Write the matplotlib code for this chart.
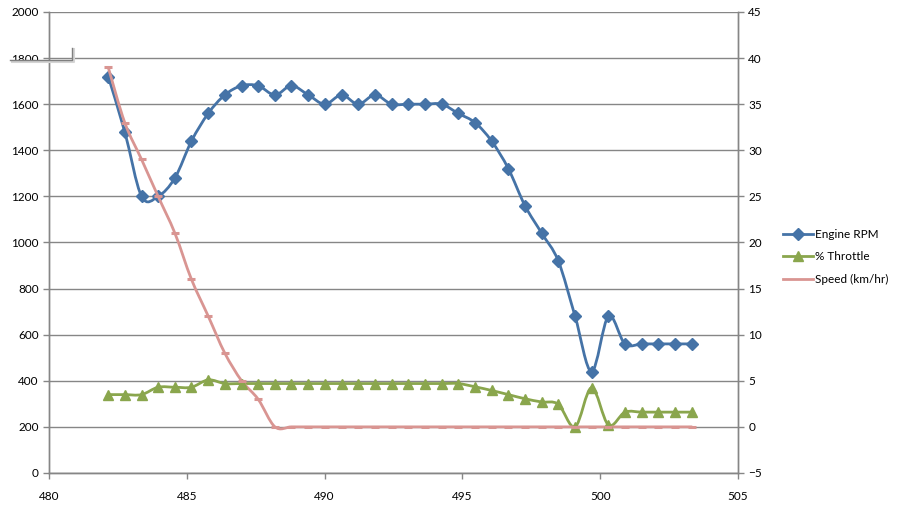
import numpy as np
import matplotlib.pyplot as plt
from matplotlib.path import Path
from matplotlib.patches import PathPatch
from matplotlib.lines import Line2D

plt.rcParams['font.family'] = ['Lato', 'DejaVu Sans']

# Data
time_s = [482.15, 482.75, 483.36, 483.96, 484.57, 485.17, 485.78, 486.38, 486.99,
          487.59, 488.20, 488.80, 489.41, 490.01, 490.62, 491.22, 491.83, 492.43,
          493.04, 493.64, 494.25, 494.85, 495.46, 496.06, 496.67, 497.27, 497.88,
          498.48, 499.09, 499.69, 500.30, 500.90, 501.51, 502.11, 502.72, 503.32]
engine_rpm = [1720, 1480, 1200, 1200, 1280, 1440, 1560, 1640, 1680, 1680, 1640, 1680,
              1640, 1600, 1640, 1600, 1640, 1600, 1600, 1600, 1600, 1560, 1520, 1440,
              1320, 1160, 1040, 920, 680, 440, 680, 560, 560, 560, 560, 560]
throttle_pct = [3.5, 3.5, 3.5, 4.3, 4.3, 4.3, 5.1, 4.7, 4.7, 4.7, 4.7, 4.7,
                4.7, 4.7, 4.7, 4.7, 4.7, 4.7, 4.7, 4.7, 4.7, 4.7, 4.35, 3.95,
                3.5, 3.05, 2.7, 2.45, 0.0, 4.25, 0.2, 1.6, 1.6, 1.6, 1.6, 1.6]
speed_kmh = [39, 33, 29, 25, 21, 16, 12, 8, 5, 3, 0, 0,
             0, 0, 0, 0, 0, 0, 0, 0, 0, 0, 0, 0,
             0, 0, 0, 0, 0, 0, 0, 0, 0, 0, 0, 0]

blue = '#4573a7'
green = '#8aa64d'
pink = '#d99592'
grid_c = '#868686'


def smooth_path(x, y):
    # Excel-style smoothed line: cubic Bezier through points (Catmull-Rom tangents)
    pts = np.column_stack([x, y]).astype(float)
    verts = [pts[0]]
    codes = [Path.MOVETO]
    n = len(pts)
    for i in range(n - 1):
        p0 = pts[max(i - 1, 0)]
        p1 = pts[i]
        p2 = pts[i + 1]
        p3 = pts[min(i + 2, n - 1)]
        verts += [p1 + (p2 - p0) / 6, p2 - (p3 - p1) / 6, p2]
        codes += [Path.CURVE4] * 3
    return Path(verts, codes)


fig = plt.figure(figsize=(8.97, 5.14), dpi=100)
ax = fig.add_axes([0.0546, 0.0798, 0.7681, 0.8969])
ax2 = ax.twinx()

ax.set_xlim(480, 505)
ax.set_ylim(0, 2000)
ax2.set_ylim(-5, 45)
ax.set_xticks(np.arange(480, 506, 5))
ax.set_yticks(np.arange(0, 2001, 200))
ax2.set_yticks(np.arange(-5, 46, 5))

ax.grid(axis='y', color=grid_c, linewidth=1.0)
ax.set_axisbelow(True)
for a in (ax, ax2):
    for s in a.spines.values():
        s.set_color(grid_c)
        s.set_linewidth(1.0)
    a.spines['top'].set_visible(False)
    a.tick_params(colors=grid_c, labelcolor='black', labelsize=8.5, length=4, width=1)
ax.tick_params(axis='x', pad=9)

# Engine RPM
ax.add_patch(PathPatch(smooth_path(time_s, engine_rpm), fill=False, edgecolor=blue,
                       linewidth=2.0, capstyle='round', joinstyle='round'))
ax.plot(time_s, engine_rpm, linestyle='none', marker='D', markersize=6, color=blue)

# Throttle
ax2.add_patch(PathPatch(smooth_path(time_s, throttle_pct), fill=False, edgecolor=green,
                        linewidth=2.0, capstyle='round', joinstyle='round'))
ax2.plot(time_s, throttle_pct, linestyle='none', marker='^', markersize=7.5, color=green)

# Speed
ax2.add_patch(PathPatch(smooth_path(time_s, speed_kmh), fill=False, edgecolor=pink,
                        linewidth=2.0, capstyle='round', joinstyle='round'))
ax2.plot(time_s, speed_kmh, linestyle='none', marker='_', markersize=6,
         markeredgewidth=2.2, color=pink)

handles = [
    Line2D([], [], color=blue, linewidth=2.0, marker='D', markersize=6),
    Line2D([], [], color=green, linewidth=2.0, marker='^', markersize=7.5),
    Line2D([], [], color=pink, linewidth=2.0),
]
fig.legend(handles, ['Engine RPM', '% Throttle', 'Speed (km/hr)'],
           loc='center left', bbox_to_anchor=(0.861, 0.5), frameon=False,
           fontsize=8.5, handlelength=2.55, handletextpad=0.15, labelspacing=0.95,
           markerfirst=True)

# Stray connector shape near the top-left of the original chart
fig.add_artist(Line2D([12 / 897, 73.5 / 897, 73.5 / 897], [1 - 61.5 / 514, 1 - 61.5 / 514, 1 - 49 / 514],
                      transform=fig.transFigure, color='#d4d4d4', linewidth=1.5))
fig.add_artist(Line2D([10 / 897, 72 / 897, 72 / 897], [1 - 60 / 514, 1 - 60 / 514, 1 - 48 / 514],
                      transform=fig.transFigure, color='#7f7f7f', linewidth=1.0))

fig.savefig('out.png', dpi=100)
